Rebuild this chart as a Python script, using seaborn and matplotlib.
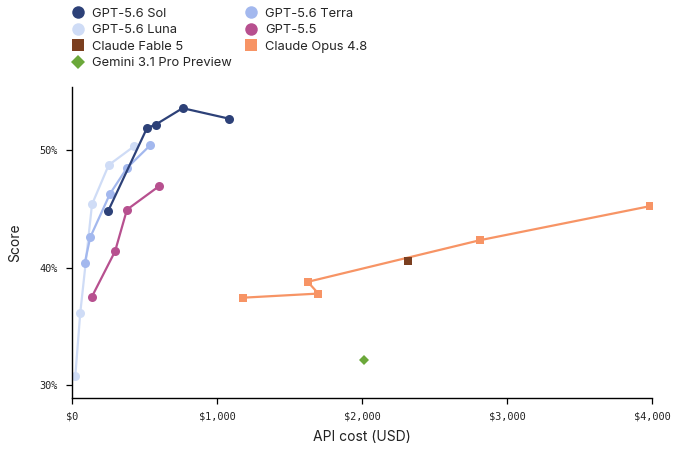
import matplotlib
matplotlib.use("Agg")
import matplotlib.pyplot as plt
from matplotlib.lines import Line2D
from matplotlib.ticker import FuncFormatter
import seaborn as sns
import pandas as pd

# ---- data ----
sol_cost = [248, 517, 577, 763, 1085]
sol_score = [44.8, 51.9, 52.2, 53.6, 52.7]

terra_cost = [88, 126, 262, 379, 540]
terra_score = [40.4, 42.6, 46.3, 48.5, 50.45]

luna_cost = [23, 57, 138, 253, 428]
luna_score = [30.8, 36.15, 45.4, 48.75, 50.35]

gpt55_cost = [136, 297, 379, 600]
gpt55_score = [37.5, 41.4, 44.95, 46.95]

fable_cost = [2315]
fable_score = [40.55]

opus_cost = [1181, 1699, 1626, 2814, 3986]
opus_score = [37.45, 37.8, 38.8, 42.35, 45.25]

gemini_cost = [2014]
gemini_score = [32.1]

series_names = ["GPT-5.6 Sol", "GPT-5.6 Luna", "Claude Fable 5", "Gemini 3.1 Pro Preview",
                "GPT-5.6 Terra", "GPT-5.5", "Claude Opus 4.8"]
x_ticks = [0, 1000, 2000, 3000, 4000]
y_ticks = [30, 40, 50]

colors = {
    "GPT-5.6 Sol": "#2d4178",
    "GPT-5.6 Terra": "#a3b8ee",
    "GPT-5.6 Luna": "#cfdcf6",
    "GPT-5.5": "#b7508f",
    "Claude Fable 5": "#7b3f20",
    "Claude Opus 4.8": "#f79465",
    "Gemini 3.1 Pro Preview": "#6ba83a",
}
markers = {
    "GPT-5.6 Sol": "o",
    "GPT-5.6 Terra": "o",
    "GPT-5.6 Luna": "o",
    "GPT-5.5": "o",
    "Claude Fable 5": "s",
    "Claude Opus 4.8": "s",
    "Gemini 3.1 Pro Preview": "D",
}

data = {
    "GPT-5.6 Luna": (luna_cost, luna_score),
    "GPT-5.6 Terra": (terra_cost, terra_score),
    "GPT-5.5": (gpt55_cost, gpt55_score),
    "GPT-5.6 Sol": (sol_cost, sol_score),
    "Claude Opus 4.8": (opus_cost, opus_score),
    "Claude Fable 5": (fable_cost, fable_score),
    "Gemini 3.1 Pro Preview": (gemini_cost, gemini_score),
}

rows = []
for name, (xs, ys) in data.items():
    for i, (xv, yv) in enumerate(zip(xs, ys)):
        rows.append({"model": name, "order": i, "cost": xv, "score": yv})
df = pd.DataFrame(rows)

sns.set_theme(style="white")
plt.rcParams["font.family"] = ["Inter", "DejaVu Sans"]

fig = plt.figure(figsize=(6.76, 4.51), dpi=100)
ax = fig.add_axes([0.1065, 0.1175, 0.858, 0.6895])

for name in data:
    sub = df[df["model"] == name]
    msize = 6.5 if markers[name] == "o" else (5.5 if markers[name] == "s" else 5.0)
    sns.lineplot(data=sub, x="cost", y="score", sort=False, estimator=None,
                 color=colors[name], marker=markers[name], markersize=msize,
                 markeredgewidth=0, linewidth=1.6, ax=ax, legend=False)

ax.set_xlim(0, 4000)
ax.set_ylim(28.9, 55.4)
ax.set_xticks(x_ticks)
ax.set_yticks(y_ticks)
ax.xaxis.set_major_formatter(FuncFormatter(lambda v, p: f"${int(v):,}"))
ax.yaxis.set_major_formatter(FuncFormatter(lambda v, p: f"{int(v)}%"))
for lab in ax.get_xticklabels() + ax.get_yticklabels():
    lab.set_fontfamily("DejaVu Sans Mono")
    lab.set_fontsize(7.4)
    lab.set_color("#222222")
ax.tick_params(axis="both", which="major", direction="out", length=4, width=0.9,
               color="black", pad=6, bottom=True, left=True)

for s in ["top", "right"]:
    ax.spines[s].set_visible(False)
for s in ["left", "bottom"]:
    ax.spines[s].set_color("black")
    ax.spines[s].set_linewidth(1.0)

ax.set_xlabel("API cost (USD)", fontsize=10, color="#222222", labelpad=6)
ax.set_ylabel("Score", fontsize=10, color="#222222", labelpad=13)

handles = []
for name in series_names:
    ms = 9 if markers[name] == "o" else (8.5 if markers[name] == "s" else 7)
    handles.append(Line2D([], [], linestyle="none", marker=markers[name], markersize=ms,
                          markerfacecolor=colors[name], markeredgewidth=0, label=name))
fig.legend(handles=handles, loc="upper left", bbox_to_anchor=(0.095, 1.0), ncol=2,
           frameon=False, fontsize=9.3, handlelength=1.0, handletextpad=0.55,
           labelspacing=0.34, columnspacing=1.0, borderaxespad=0.2)

fig.savefig("out.png", dpi=100)
